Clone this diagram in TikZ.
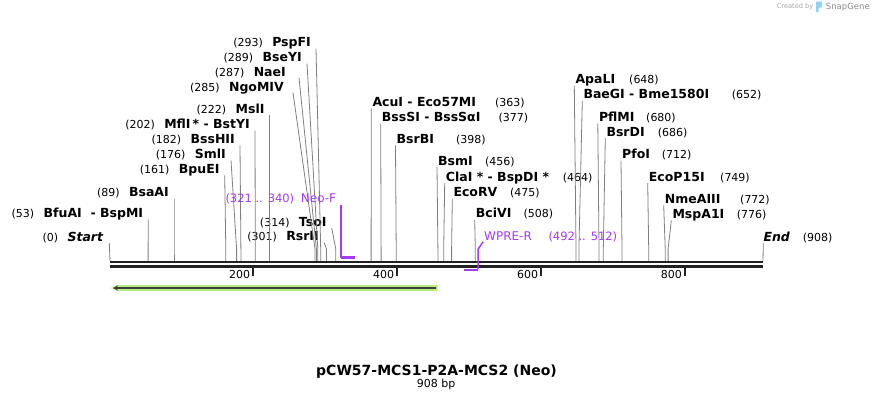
\documentclass[tikz,border=0pt]{standalone}
\usepackage{fontspec}
\setmainfont{DejaVu Sans}
\usetikzlibrary{arrows.meta}
\definecolor{primer}{HTML}{A13CF0}
\definecolor{featgreen}{HTML}{B4EE80}
\definecolor{snapblue}{HTML}{8CD3F5}

\begin{document}
\begin{tikzpicture}[x=1pt, y=-1pt,
    enz/.style={font=\fontsize{12.5}{14}\selectfont\bfseries, inner sep=0pt},
    num/.style={font=\fontsize{11}{13}\selectfont, inner sep=0pt, anchor=base west},
    lnum/.style={font=\fontsize{11}{13}\selectfont, inner sep=0pt, anchor=base east},
    cut/.style={draw=black!50, line width=0.8pt},
    bb/.style={draw=black!87, line width=2.5pt},
    tck/.style={draw=black!87, line width=1.8pt},
    prm/.style={draw=primer, line width=2.5pt},
    prmlead/.style={draw=primer, line width=1.5pt},
    plab/.style={font=\fontsize{12}{14}\selectfont, text=primer, inner sep=0pt, anchor=base west},
    prng/.style={font=\fontsize{11.5}{13}\selectfont, text=primer, inner sep=0pt, anchor=base west}]

\useasboundingbox (0,0) rectangle (874,400);

% sites on the map ---
\coordinate (knee) at (0,249);
\coordinate (s0) at (110,261);
\coordinate (s53) at (148.1,261);
\coordinate (s89) at (174.0,261);
\coordinate (s161) at (225.8,261);
\coordinate (s176) at (236.6,261);
\coordinate (s182) at (240.9,261);
\coordinate (s202) at (255.3,261);
\coordinate (s222) at (269.7,261);
\coordinate (s285) at (315.0,261);
\coordinate (s287) at (316.4,261);
\coordinate (s289) at (317.8,261);
\coordinate (s293) at (320.7,261);
\coordinate (s301) at (326.5,261);
\coordinate (s314) at (335.8,261);
\coordinate (s363) at (371.1,261);
\coordinate (s377) at (381.1,261);
\coordinate (s398) at (396.2,261);
\coordinate (s456) at (437.9,261);
\coordinate (s464) at (443.7,261);
\coordinate (s475) at (451.6,261);
\coordinate (s508) at (475.3,261);
\coordinate (s648) at (576.0,261);
\coordinate (s652) at (578.9,261);
\coordinate (s680) at (599.0,261);
\coordinate (s686) at (603.3,261);
\coordinate (s712) at (622.0,261);
\coordinate (s749) at (648.7,261);
\coordinate (s772) at (665.2,261);
\coordinate (s776) at (668.1,261);
\coordinate (s908) at (763.0,261);

% labels left of the site ---
\node (n0) [enz, anchor=base east] at (103.3,241) {\itshape Start};
\node (p0) [lnum] at ([xshift=-9pt]n0.base west) {(0)};
\node (n53) [enz, anchor=base east] at (143.3,217.7) {BfuAI~~-~BspMI};
\node (p53) [lnum] at ([xshift=-9pt]n53.base west) {(53)};
\node (n89) [enz, anchor=base east] at (169,196.7) {BsaAI};
\node (p89) [lnum] at ([xshift=-9pt]n89.base west) {(89)};
\node (n161) [enz, anchor=base east] at (219.7,173.4) {BpuEI};
\node (p161) [lnum] at ([xshift=-9pt]n161.base west) {(161)};
\node (n176) [enz, anchor=base east] at (226,158.4) {SmlI};
\node (p176) [lnum] at ([xshift=-9pt]n176.base west) {(176)};
\node (n182) [enz, anchor=base east] at (235,143.4) {BssHII};
\node (p182) [lnum] at ([xshift=-9pt]n182.base west) {(182)};
\node (n202) [enz, anchor=base east] at (250,128.7) {MflI\,*~-~BstYI};
\node (p202) [lnum] at ([xshift=-9pt]n202.base west) {(202)};
\node (n222) [enz, anchor=base east] at (264.7,113.4) {MslI};
\node (p222) [lnum] at ([xshift=-9pt]n222.base west) {(222)};
\node (n285) [enz, anchor=base east] at (284,91.7) {NgoMIV};
\node (p285) [lnum] at ([xshift=-9pt]n285.base west) {(285)};
\node (n287) [enz, anchor=base east] at (286,76.7) {NaeI};
\node (p287) [lnum] at ([xshift=-9pt]n287.base west) {(287)};
\node (n289) [enz, anchor=base east] at (302,61.7) {BseYI};
\node (p289) [lnum] at ([xshift=-9pt]n289.base west) {(289)};
\node (n293) [enz, anchor=base east] at (311,46.7) {PspFI};
\node (p293) [lnum] at ([xshift=-9pt]n293.base west) {(293)};
\node (n301) [enz, anchor=base east] at (319,240.4) {RsrII};
\node (p301) [lnum] at ([xshift=-9pt]n301.base west) {(301)};
\node (n314) [enz, anchor=base east] at (326.7,226.1) {TsoI};
\node (p314) [lnum] at ([xshift=-9pt]n314.base west) {(314)};

% labels right of the site ---
\node (n363) [enz, anchor=base west] at (372.3,106.4) {AcuI~-~Eco57MI};
\node (p363) [num] at (495,106.4) {(363)};
\node (n377) [enz, anchor=base west] at (381.7,121.7) {BssSI~-~BssSαI};
\node (p377) [num] at (498.3,121.7) {(377)};
\node (n398) [enz, anchor=base west] at (396.5,143.4) {BsrBI};
\node (p398) [num] at (456,143.4) {(398)};
\node (n456) [enz, anchor=base west] at (438,165) {BsmI};
\node (p456) [num] at (485,165) {(456)};
\node (n464) [enz, anchor=base west] at (445.7,181) {ClaI~*~-~BspDI~*};
\node (p464) [num] at (562.7,181) {(464)};
\node (n475) [enz, anchor=base west] at (453.3,196.7) {EcoRV};
\node (p475) [num] at (510,196.7) {(475)};
\node (n508) [enz, anchor=base west] at (475.7,217.7) {BciVI};
\node (p508) [num] at (523.3,217.7) {(508)};
\node (n648) [enz, anchor=base west] at (575.3,83.7) {ApaLI};
\node (p648) [num] at (629,83.7) {(648)};
\node (n652) [enz, anchor=base west] at (583.3,98.7) {BaeGI~-~Bme1580I};
\node (p652) [num] at (731.7,98.7) {(652)};
\node (n680) [enz, anchor=base west] at (598.8,121.7) {PflMI};
\node (p680) [num] at (646,121.7) {(680)};
\node (n686) [enz, anchor=base west] at (606.3,136) {BsrDI};
\node (p686) [num] at (657.7,136) {(686)};
\node (n712) [enz, anchor=base west] at (622,158.7) {PfoI};
\node (p712) [num] at (661.7,158.7) {(712)};
\node (n749) [enz, anchor=base west] at (648.7,181) {EcoP15I};
\node (p749) [num] at (720,181) {(749)};
\node (n772) [enz, anchor=base west] at (664.7,203.4) {NmeAIII};
\node (p772) [num] at (740,203.4) {(772)};
\node (n776) [enz, anchor=base west] at (672.3,218.4) {MspA1I};
\node (p776) [num] at (736.7,218.4) {(776)};
\node (n908) [enz, anchor=base west] at (763.3,241) {\itshape End};
\node (p908) [num] at (802.7,241) {(908)};

% cut lines ---
\draw[cut] (n0.base east) ++(6,2) -- (s0);
\draw[cut] (n53.base east) ++(5,2) -- (s53 |- knee) -- (s53);
\draw[cut] (n89.base east) ++(5,2) -- (s89 |- knee) -- (s89);
\draw[cut] (n161.base east) ++(5,2) -- (s161 |- knee) -- (s161);
\draw[cut] (n176.base east) ++(5,2) -- (s176 |- knee) -- (s176);
\draw[cut] (n182.base east) ++(5,2) -- (s182 |- knee) -- (s182);
\draw[cut] (n202.base east) ++(5,2) -- (s202 |- knee) -- (s202);
\draw[cut] (n222.base east) ++(5,2) -- (s222 |- knee) -- (s222);
\draw[cut] (n285.base east) ++(9,1) -- (s285 |- knee) -- (s285);
\draw[cut] (n287.base east) ++(13,1) -- (s287 |- knee) -- (s287);
\draw[cut] (n289.base east) ++(5,2) -- (s289 |- knee) -- (s289);
\draw[cut] (n293.base east) ++(5,2) -- (s293 |- knee) -- (s293);
\draw[cut] (n301.base east) ++(5,2) -- (s301 |- knee) -- (s301);
\draw[cut] (n314.base east) ++(5,2) -- (s314 |- knee) -- (s314);

\draw[cut] (n363.base west) ++(-1,2) -- (s363 |- knee) -- (s363);
\draw[cut] (n377.base west) ++(-1,2) -- (s377 |- knee) -- (s377);
\draw[cut] (n398.base west) ++(-1,2) -- (s398 |- knee) -- (s398);
\draw[cut] (n456.base west) ++(-1,2) -- (s456 |- knee) -- (s456);
\draw[cut] (n464.base west) ++(-1,2) -- (s464 |- knee) -- (s464);
\draw[cut] (n475.base west) ++(-1,2) -- (s475 |- knee) -- (s475);
\draw[cut] (n508.base west) ++(-1,2) -- (s508 |- knee) -- (s508);
\draw[cut] (n648.base west) ++(-1,2) -- (s648 |- knee) -- (s648);
\draw[cut] (n652.base west) ++(-1,2) -- (s652 |- knee) -- (s652);
\draw[cut] (n680.base west) ++(-1,2) -- (s680 |- knee) -- (s680);
\draw[cut] (n686.base west) ++(-1,2) -- (s686 |- knee) -- (s686);
\draw[cut] (n712.base west) ++(-1,2) -- (s712 |- knee) -- (s712);
\draw[cut] (n749.base west) ++(-1,2) -- (s749 |- knee) -- (s749);
\draw[cut] (n772.base west) ++(-1,2) -- (s772 |- knee) -- (s772);
\draw[cut] (n776.base west) ++(-1,2) -- (s776 |- knee) -- (s776);
\draw[cut] (n908.base west) ++(0,2) -- (s908);

% backbone and ruler ---
\draw[bb] (110,262) -- (763,262);
\draw[bb] (110,266.3) -- (763,266.3);

\draw[tck] (253.3,267) -- (253.3,275.5);
\draw[tck] (397.3,267) -- (397.3,275.5);
\draw[tck] (541.3,267) -- (541.3,275.5);
\draw[tck] (685,267) -- (685,275.5);
\node (t200) [lnum] at (250.3,278) {200};
\node (t400) [lnum] at (394.3,278) {400};
\node (t600) [lnum] at (538.3,278) {600};
\node (t800) [lnum] at (682,278) {800};

% primers ---
\coordinate (neoFa) at (340.9,257.6);
\coordinate (neoFb) at (354.5,257.6);
\node (neoF) [plab] at (300.7,202.5) {Neo-F};
\node (neoFr) [prng] at (225.3,202.5) {(321 .. 340)};
\draw[prm] (neoFa) -- (neoFb);
\draw[prmlead] (neoFa |- neoF.base) ++(0,2.5) -- (neoFa);

\coordinate (wpreRa) at (463.8,270.2);
\coordinate (wpreRb) at (478.2,270.2);
\node (wpreR) [plab] at (484,240.6) {WPRE-R};
\node (wpreRr) [prng] at (548.3,240.6) {(492 .. 512)};
\draw[prm] (wpreRa) -- (wpreRb);
\draw[prmlead] (wpreR.base west) ++(-1,1.3) -- (wpreRb |- knee) -- ([yshift=1.2pt]wpreRb);

% feature ---
\fill[featgreen] (437.7,285) -- (117,285) -- (110.7,288) -- (117,291) -- (437.7,291) -- cycle;
\draw[line width=1.3pt, draw=black!75, -{Stealth[length=5pt,width=5pt]}] (436,288) -- (113,288);

% title ---
\node (title) [font=\fontsize{14}{16}\selectfont\bfseries, inner sep=0pt, anchor=base] at (436.5,375.3) {pCW57-MCS1-P2A-MCS2 (Neo)};
\node (len) [font=\fontsize{11}{13}\selectfont, inner sep=0pt, anchor=base] at (436.2,387.5) {908 bp};

% watermark ---
\node (made) [font=\fontsize{6.6}{8}\selectfont, text=black!35, inner sep=0pt, anchor=west] at (776.7,7) {Created by};
\fill[snapblue] (816,1.5) -- (822,1.5) -- (822,7) -- (818.5,8) -- (818.5,12) -- (816,12) -- cycle;
\node (snap) [font=\fontsize{8.5}{10}\selectfont, text=black!45, inner sep=0pt, anchor=west] at (825.7,7) {SnapGene};

\end{tikzpicture}
\end{document}
